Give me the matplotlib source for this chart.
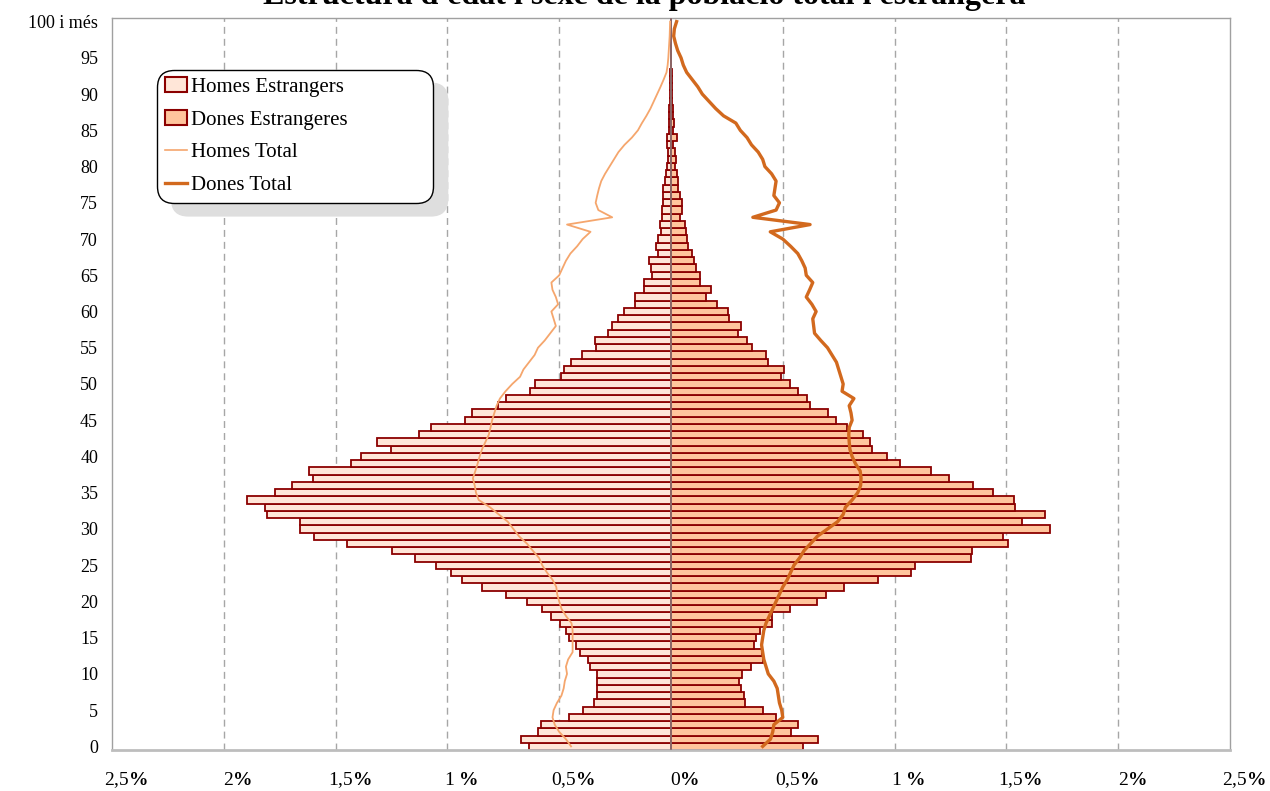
import matplotlib.pyplot as plt
from matplotlib.patches import Patch
from matplotlib.lines import Line2D
import matplotlib.transforms as mtransforms

plt.rcParams['font.family'] = ['Liberation Serif', 'DejaVu Serif']
plt.rcParams['mathtext.fontset'] = 'custom'
plt.rcParams['mathtext.rm'] = 'Liberation Serif'
plt.rcParams['mathtext.bf'] = 'Liberation Serif:bold'

# % of total population, by age (0 .. 100 i més)
ages = list(range(101))

homes_estr = [
    0.634, 0.669, 0.597, 0.580, 0.458, 0.394, 0.343, 0.332, 0.330, 0.332,
    0.333, 0.364, 0.372, 0.409, 0.424, 0.455, 0.469, 0.496, 0.536, 0.575,
    0.645, 0.740, 0.846, 0.934, 0.983, 1.049, 1.143, 1.246, 1.450, 1.597,
    1.657, 1.661, 1.806, 1.815, 1.895, 1.770, 1.694, 1.600, 1.620, 1.433,
    1.386, 1.254, 1.314, 1.128, 1.072, 0.920, 0.888, 0.773, 0.737, 0.630,
    0.610, 0.490, 0.479, 0.446, 0.400, 0.336, 0.342, 0.283, 0.263, 0.236,
    0.211, 0.159, 0.159, 0.122, 0.122, 0.086, 0.089, 0.098, 0.059, 0.066,
    0.057, 0.046, 0.047, 0.041, 0.041, 0.035, 0.037, 0.038, 0.029, 0.023,
    0.017, 0.014, 0.013, 0.017, 0.017, 0.011, 0.010, 0.008, 0.007, 0.006,
    0.005, 0.004, 0.003, 0.003, 0.002, 0.002, 0.001, 0.001, 0.001, 0.0005,
    0.0005,
]

dones_estr = [
    0.589, 0.656, 0.537, 0.570, 0.470, 0.411, 0.329, 0.326, 0.314, 0.302,
    0.317, 0.359, 0.411, 0.405, 0.370, 0.378, 0.399, 0.450, 0.451, 0.533,
    0.655, 0.692, 0.775, 0.924, 1.073, 1.092, 1.341, 1.348, 1.508, 1.486,
    1.694, 1.569, 1.672, 1.538, 1.532, 1.441, 1.351, 1.244, 1.165, 1.025,
    0.968, 0.898, 0.888, 0.858, 0.789, 0.737, 0.703, 0.621, 0.610, 0.570,
    0.530, 0.493, 0.505, 0.435, 0.426, 0.363, 0.342, 0.300, 0.312, 0.259,
    0.253, 0.205, 0.157, 0.178, 0.129, 0.129, 0.113, 0.104, 0.093, 0.078,
    0.072, 0.065, 0.062, 0.041, 0.050, 0.047, 0.039, 0.030, 0.030, 0.029,
    0.020, 0.023, 0.020, 0.008, 0.026, 0.011, 0.014, 0.009, 0.008, 0.006,
    0.005, 0.004, 0.004, 0.003, 0.002, 0.002, 0.002, 0.001, 0.001, 0.001,
    0.001,
]

homes_total = [
    0.447, 0.470, 0.500, 0.520, 0.530, 0.525, 0.510, 0.490, 0.480, 0.475,
    0.465, 0.470, 0.460, 0.440, 0.440, 0.440, 0.440, 0.445, 0.470, 0.490,
    0.500, 0.509, 0.513, 0.530, 0.555, 0.576, 0.590, 0.618, 0.645, 0.680,
    0.705, 0.730, 0.770, 0.810, 0.860, 0.872, 0.878, 0.886, 0.875, 0.865,
    0.856, 0.845, 0.830, 0.815, 0.807, 0.800, 0.790, 0.780, 0.765, 0.740,
    0.710, 0.675, 0.660, 0.635, 0.610, 0.595, 0.565, 0.540, 0.515, 0.525,
    0.535, 0.505, 0.515, 0.530, 0.535, 0.500, 0.485, 0.470, 0.450, 0.420,
    0.395, 0.360, 0.465, 0.263, 0.325, 0.337, 0.330, 0.322, 0.312, 0.295,
    0.275, 0.255, 0.235, 0.208, 0.175, 0.148, 0.130, 0.110, 0.092, 0.077,
    0.062, 0.047, 0.033, 0.020, 0.015, 0.012, 0.010, 0.008, 0.006, 0.005,
    0.004,
]

dones_total = [
    0.410, 0.445, 0.455, 0.460, 0.500, 0.495, 0.485, 0.480, 0.475, 0.460,
    0.435, 0.425, 0.415, 0.410, 0.405, 0.410, 0.415, 0.425, 0.440, 0.455,
    0.470, 0.485, 0.500, 0.520, 0.535, 0.550, 0.575, 0.595, 0.625, 0.655,
    0.700, 0.745, 0.770, 0.780, 0.810, 0.835, 0.848, 0.850, 0.846, 0.825,
    0.810, 0.800, 0.797, 0.795, 0.797, 0.810, 0.805, 0.797, 0.818, 0.765,
    0.770, 0.760, 0.750, 0.740, 0.720, 0.700, 0.670, 0.642, 0.638, 0.634,
    0.649, 0.630, 0.605, 0.620, 0.634, 0.605, 0.600, 0.585, 0.567, 0.535,
    0.500, 0.444, 0.622, 0.366, 0.470, 0.485, 0.460, 0.465, 0.470, 0.450,
    0.420, 0.410, 0.390, 0.360, 0.340, 0.310, 0.290, 0.235, 0.200, 0.170,
    0.140, 0.120, 0.095, 0.070, 0.055, 0.045, 0.030, 0.020, 0.012, 0.015,
    0.025,
]

age_labels = [str(a) for a in range(0, 100, 5)] + ['100 i més']
pct_ticks = [-2.5, -2, -1.5, -1, -0.5, 0, 0.5, 1, 1.5, 2, 2.5]
pct_labels = ['2,5', '2', '1,5', '1 ', '0,5', '0', '0,5', '1 ', '1,5', '2', '2,5']

fig = plt.figure(figsize=(12.7, 7.91), dpi=100)
ax = fig.add_axes([112 / 1270, 41 / 791, 1118 / 1270, 732 / 791])

for x in pct_ticks[1:-1]:
    if x != 0:
        ax.axvline(x, color='#a6a6a6', lw=1.0, ls=(0, (5, 3.6)), zorder=0)

ax.barh(ages, [-v for v in homes_estr], height=1.0, color='#ffe6d8',
        edgecolor='#8b0000', linewidth=1.3, zorder=2)
ax.barh(ages, dones_estr, height=1.0, color='#ffc59d',
        edgecolor='#8b0000', linewidth=1.3, zorder=2)
ax.axvline(0, color='#8d7070', lw=1.3, zorder=3)

ax.plot([-v for v in homes_total], ages, color='#f5a66d', lw=1.3, zorder=4)
ax.plot(dones_total, ages, color='#d2691e', lw=2.4, zorder=4)

ax.set_xlim(-2.5, 2.5)
ax.set_ylim(-0.5, 100.5)

ax.set_yticks(list(range(0, 101, 5)))
ax.set_yticklabels(age_labels, fontsize=13)
ax.set_xticks(pct_ticks)
ax.set_xticklabels([s + r'$\mathbf{\%}$' for s in pct_labels], fontsize=14,
                   va='baseline')
ax.tick_params(axis='y', length=0, pad=10)
ax.tick_params(axis='x', length=0, pad=25)
shift = mtransforms.ScaledTranslation(14 / 100, 0, fig.dpi_scale_trans)
for lab in ax.get_xticklabels():
    lab.set_transform(lab.get_transform() + shift)

for side in ['left', 'top', 'right']:
    ax.spines[side].set_color('#a0a0a0')
    ax.spines[side].set_linewidth(1.0)
ax.spines['bottom'].set_color('#bdbdbd')
ax.spines['bottom'].set_linewidth(2.0)

fig.text(0.507, 1 - 4 / 791,
         "Estructura d'edat i sexe de la població total i estrangera",
         ha='center', va='baseline', fontsize=23, fontweight='bold')

handles = [
    Patch(facecolor='#ffe6d8', edgecolor='#8b0000', linewidth=1.5, label='Homes Estrangers'),
    Patch(facecolor='#ffc59d', edgecolor='#8b0000', linewidth=1.5, label='Dones Estrangeres'),
    Line2D([], [], color='#f5a66d', lw=1.2, label='Homes Total'),
    Line2D([], [], color='#d2691e', lw=2.4, label='Dones Total'),
]
x0 = 45 / 1118
y1 = (750 - 70) / 732
w = 276 / 1118
h = 129 / 732
leg = ax.legend(handles=handles, loc='upper left', mode='expand',
                bbox_to_anchor=(x0, y1 - h, w, h), borderaxespad=0,
                fontsize=15, frameon=True, fancybox=True, framealpha=1,
                edgecolor='black', handlelength=1.1, handleheight=0.7,
                handletextpad=0.15, labelspacing=0.63, borderpad=0.36,
                shadow={'ox': 10.5, 'oy': -9.5, 'facecolor': '#dedede',
                        'edgecolor': '#dedede', 'alpha': 1})
leg.get_frame().set_linewidth(1.0)
leg.get_frame().set_boxstyle('round', pad=0, rounding_size=0.8)
leg.set_zorder(5)

fig.savefig('out.png', dpi=100)
